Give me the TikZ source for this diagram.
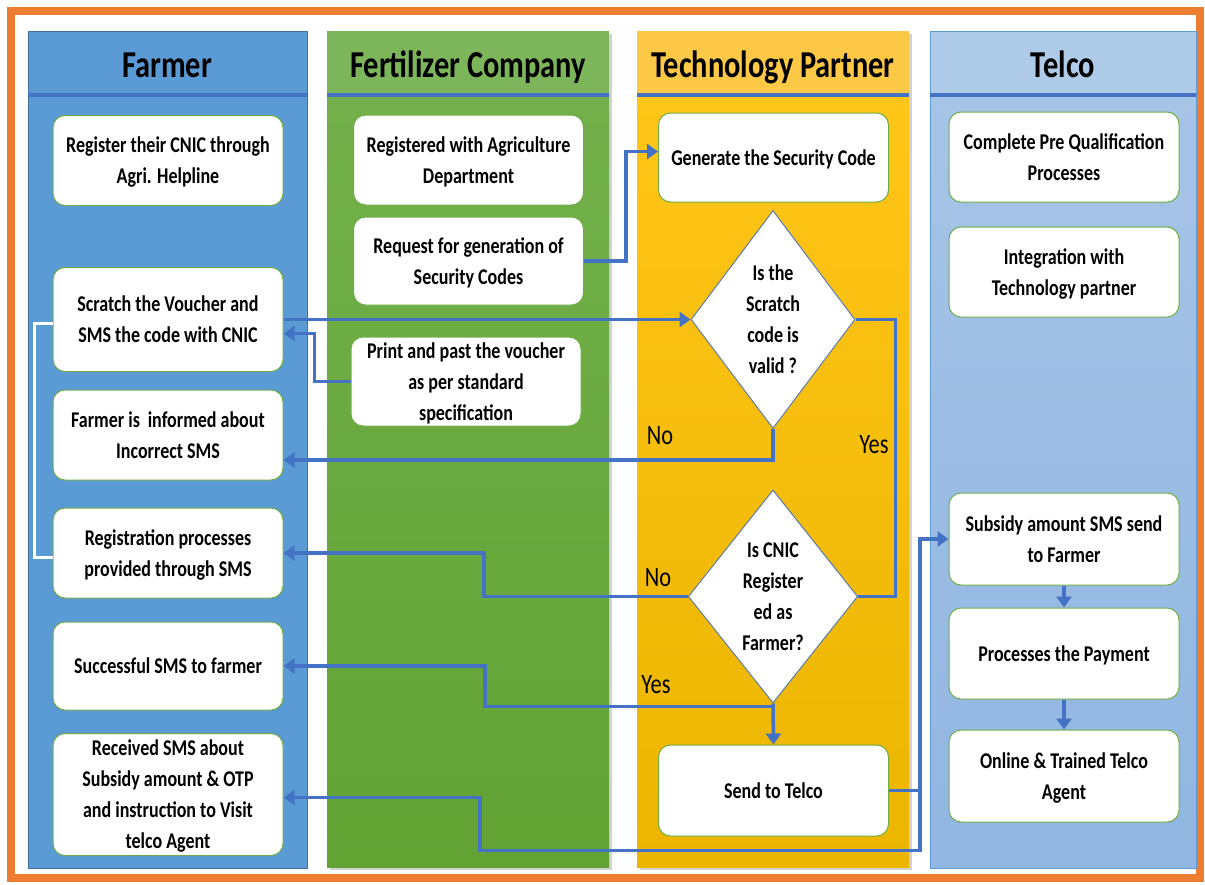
\documentclass[tikz,border=0pt]{standalone}
\usepackage{fontspec}
\setmainfont{Carlito}[FakeStretch=0.8]
\usetikzlibrary{arrows.meta,shapes.geometric,shadows}

\definecolor{orangeCadre}{HTML}{ED7D31}
\definecolor{bleuFermier}{HTML}{5B9BD5}
\definecolor{bleuBord}{HTML}{41719C}
\definecolor{bleuFilet}{HTML}{4472C4}
\definecolor{vertEntete}{HTML}{7DB65A}
\definecolor{vertHaut}{HTML}{73B04B}
\definecolor{vertBas}{HTML}{62A334}
\definecolor{jauneEntete}{HTML}{FDC845}
\definecolor{jauneHaut}{HTML}{FFC518}
\definecolor{jauneBas}{HTML}{EBB500}
\definecolor{cielEntete}{HTML}{AFCBEA}
\definecolor{cielHaut}{HTML}{A8C5E7}
\definecolor{cielBas}{HTML}{90B6E1}
\definecolor{vertBoite}{HTML}{70AD47}
\definecolor{bleuLosange}{HTML}{5A7BAA}

\tikzset{boite/.style = {draw=vertBoite, line width=1pt, fill=white, rounded corners=12pt,
                         minimum width=230pt, minimum height=#1, align=center,
                         inner sep=2pt, text depth=-2pt,
                         font=\fontsize{22.5}{31}\selectfont\bfseries},
         boite/.default=90pt,
         losange/.style = {diamond, draw=bleuLosange, line width=1pt, fill=white,
                           minimum width=164pt, minimum height=218pt, inner sep=0pt,
                           align=center, font=\fontsize{22.5}{31}\selectfont\bfseries},
         lien/.style = {draw=bleuFilet, line width=3.5pt},
         fleche/.style = {lien, -{Triangle[length=11pt,width=15pt]}},
         titre/.style = {anchor=base, font=\fontsize{38}{40}\selectfont\bfseries},
         etiquette/.style = {font=\fontsize{28}{30}\selectfont},
         filet/.style = {draw=bleuFilet, line width=4pt},
         ombre/.style = {drop shadow={opacity=0.35, shadow xshift=3pt, shadow yshift=-3pt}}
        }

\begin{document}
\begin{tikzpicture}[x=1pt, y=-1pt]
  \useasboundingbox (0,0) rectangle (1205,884);
  \fill[white] (0,0) rectangle (1205,884);
  \draw[orangeCadre, line width=8pt] (11,11) rectangle (1200,878);

  % couloirs
  \fill[bleuFermier, draw=bleuBord, line width=1pt] (28,31) rectangle (307,868);

  \fill[vertHaut, ombre] (327,31) rectangle (609,867);
  \shade[top color=vertHaut, bottom color=vertBas] (327,95) rectangle (609,867);
  \fill[vertEntete] (327,31) rectangle (609,95);

  \fill[jauneHaut, ombre] (637,31) rectangle (909,867);
  \shade[top color=jauneHaut, bottom color=jauneBas] (637,95) rectangle (909,867);
  \fill[jauneEntete] (637,31) rectangle (909,95);

  \shade[top color=cielHaut, bottom color=cielBas] (930,31) rectangle (1196,868);
  \fill[cielEntete] (930,31) rectangle (1196,95);
  \draw[bleuFermier, line width=1pt] (930,31) rectangle (1196,868);

  \draw[filet] (28,95) -- (307,95);
  \draw[filet] (327,95) -- (609,95);
  \draw[filet] (637,95) -- (909,95);
  \draw[filet] (930,95) -- (1196,95);

  \node[titre] (tFermier) at (167,77) {Farmer};
  \node[titre] (tEngrais) at (468,77) {Fertilizer Company};
  \node[titre] (tTechno) at (773,77) {Technology Partner};
  \node[titre] (tTelco) at (1063,77) {Telco};

  % Farmer
  \node[boite] (F1) at (168,160.5) {Register their CNIC through\\Agri. Helpline};
  \node[boite=104pt] (F2) at (168,319.5) {Scratch the Voucher and\\SMS the code with CNIC};
  \node[boite] (F3) at (168,435) {Farmer is\, informed about\\Incorrect SMS};
  \node[boite] (F4) at (168,553) {Registration processes\\provided through SMS};
  \node[boite=88pt] (F5) at (168,666) {Successful SMS to farmer};
  \node[boite=122pt] (F6) at (168,794.5) {Received SMS about\\Subsidy amount \& OTP\\and instruction to Visit\\telco Agent};

  % Fertilizer Company
  \node[boite] (C1) at (468.5,160) {Registered with Agriculture\\Department};
  \node[boite=88pt] (C2) at (468.5,261) {Request for generation of\\Security Codes};
  \node[boite=89pt] (C3) at (466,381.5) {Print and past the voucher\\as per standard\\specification};

  % Technology Partner
  \node[boite=89pt] (T1) at (773.5,157.5) {Generate the Security Code};
  \node[losange] (D1) at (773,319.5) {Is the\\Scratch\\code is\\valid ?};
  \node[losange, minimum height=213pt] (D2) at (773,596.5) {Is CNIC\\Register\\ed as\\Farmer?};
  \node[boite=91pt] (T2) at (773.5,790.5) {Send to Telco};

  % Telco
  \node[boite] (L1) at (1064,157) {Complete Pre Qualification\\Processes};
  \node[boite] (L2) at (1064,272) {Integration with\\Technology partner};
  \node[boite=92pt] (L3) at (1064,539) {Subsidy amount SMS send\\to Farmer};
  \node[boite=91pt] (L4) at (1064,653.5) {Processes the Payment};
  \node[boite=92pt] (L5) at (1064,776) {Online \& Trained Telco\\Agent};

  % liens
  \draw[white, line width=3pt] ([yshift=-4pt]F2.west) -- ++(-18,0) |- ([yshift=-4pt]F4.west);
  \draw[fleche] (C2.east) -- ++(42,0) |- ([yshift=6pt]T1.west);
  \draw[fleche] (F2.east |- D1.west) -- (D1.west);
  \draw[fleche] (C3.west) -- ++(-36,0) |- ([yshift=-14pt]F2.east);
  \draw[fleche] (D1.south) |- ([yshift=-25pt]F3.east);
  \draw[lien] (D1.east) -- ++(40,0) |- (D2.east);
  \draw[fleche] (D2.west) -- ++(-204,0) |- (F4.east);
  \draw[fleche] (D2.south) -- (T2.north);
  \draw[fleche] ([yshift=-3pt]D2.south) -- ++(-288,0) |- (F5.east);
  \draw[fleche] (T2.east) -- ++(31,0) |- (L3.west);
  \draw[fleche] (T2.east) -- ++(31,0) -- ++(0,60) -- ++(-440,0) |- ([yshift=-3pt]F6.east);
  \draw[fleche] (L3) -- (L4);
  \draw[fleche] (L4) -- (L5);

  \node[etiquette] (non1) at (660,436) {No};
  \node[etiquette] (oui1) at (874,445) {Yes};
  \node[etiquette] (non2) at (658,578) {No};
  \node[etiquette] (oui2) at (656,685) {Yes};
\end{tikzpicture}
\end{document}
